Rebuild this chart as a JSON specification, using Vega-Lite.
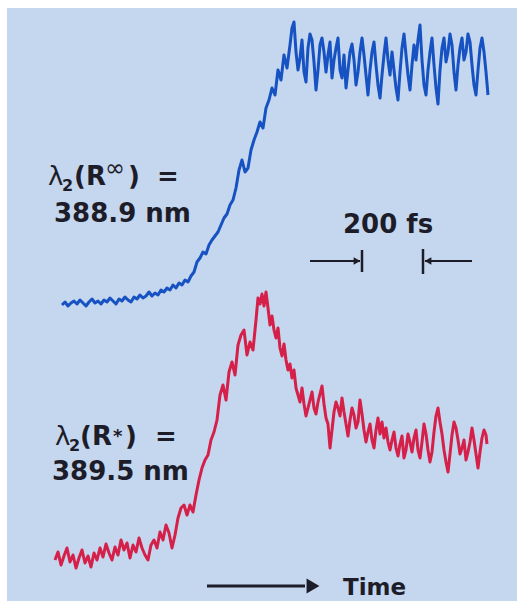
{
  "$schema": "https://vega.github.io/schema/vega-lite/v6.json",
  "width": 510,
  "height": 593,
  "autosize": "none",
  "padding": {"left": 7, "top": 8, "right": 0, "bottom": 0},
  "background": "white",
  "view": {"fill": "#c5d6ef", "stroke": null},
  "config": {
    "axis": {"disable": true},
    "text": {"font": "DejaVu Sans", "fontWeight": "bold", "color": "#1d1d29", "align": "left", "baseline": "alphabetic"}
  },
  "datasets": {
    "blue": [
      {"t":62,"s":295},{"t":65,"s":298},{"t":68,"s":294},{"t":71,"s":297},{"t":74,"s":299},{"t":77,"s":296},{"t":80,"s":300},{"t":83,"s":297},{"t":86,"s":294},{"t":89,"s":298},
      {"t":92,"s":301},{"t":95,"s":297},{"t":98,"s":299},{"t":101,"s":296},{"t":104,"s":300},{"t":107,"s":298},{"t":110,"s":302},{"t":113,"s":299},{"t":116,"s":296},{"t":119,"s":301},
      {"t":122,"s":299},{"t":125,"s":303},{"t":128,"s":300},{"t":131,"s":298},{"t":134,"s":303},{"t":137,"s":301},{"t":140,"s":305},{"t":143,"s":302},{"t":146,"s":304},{"t":149,"s":308},
      {"t":152,"s":304},{"t":155,"s":307},{"t":158,"s":305},{"t":161,"s":310},{"t":164,"s":308},{"t":167,"s":312},{"t":170,"s":310},{"t":173,"s":315},{"t":176,"s":312},{"t":179,"s":317},
      {"t":182,"s":315},{"t":185,"s":320},{"t":188,"s":318},{"t":191,"s":324},{"t":194,"s":328},{"t":197,"s":338},{"t":200,"s":342},{"t":203,"s":348},{"t":206,"s":346},{"t":209,"s":355},
      {"t":212,"s":360},{"t":215,"s":364},{"t":218,"s":368},{"t":221,"s":375},{"t":224,"s":382},{"t":227,"s":386},{"t":230,"s":395},{"t":233,"s":400},{"t":236,"s":412},{"t":239,"s":430},
      {"t":242,"s":440},{"t":245,"s":428},{"t":248,"s":432},{"t":251,"s":450},{"t":254,"s":460},{"t":257,"s":468},{"t":260,"s":478},{"t":263,"s":472},{"t":266,"s":492},{"t":269,"s":500},
      {"t":272,"s":512},{"t":275,"s":505},{"t":278,"s":530},{"t":281,"s":520},{"t":284,"s":545},{"t":287,"s":532},
      {"t":290,"s":555},{"t":292,"s":572},{"t":294,"s":578},{"t":296,"s":548},{"t":298,"s":530},{"t":300,"s":542},{"t":302,"s":560},{"t":304,"s":528},{"t":306,"s":518},{"t":308,"s":552},
      {"t":310,"s":566},{"t":312,"s":560},{"t":314,"s":538},{"t":316,"s":510},{"t":318,"s":530},{"t":320,"s":555},{"t":322,"s":562},{"t":324,"s":548},{"t":326,"s":528},{"t":328,"s":545},
      {"t":330,"s":558},{"t":332,"s":522},{"t":334,"s":540},{"t":336,"s":552},{"t":338,"s":562},{"t":340,"s":530},{"t":342,"s":522},{"t":344,"s":545},{"t":346,"s":512},{"t":348,"s":530},
      {"t":350,"s":548},{"t":352,"s":556},{"t":354,"s":540},{"t":356,"s":515},{"t":358,"s":528},{"t":360,"s":548},{"t":362,"s":562},{"t":364,"s":545},{"t":366,"s":525},{"t":368,"s":505},
      {"t":370,"s":530},{"t":372,"s":548},{"t":374,"s":558},{"t":376,"s":535},{"t":378,"s":515},{"t":380,"s":502},{"t":382,"s":525},{"t":384,"s":545},{"t":386,"s":562},{"t":388,"s":540},
      {"t":390,"s":525},{"t":392,"s":548},{"t":394,"s":530},{"t":396,"s":512},{"t":398,"s":500},{"t":400,"s":528},{"t":402,"s":552},{"t":404,"s":566},{"t":406,"s":545},{"t":408,"s":525},
      {"t":410,"s":510},{"t":412,"s":535},{"t":414,"s":555},{"t":416,"s":540},{"t":418,"s":560},{"t":420,"s":575},{"t":422,"s":540},{"t":424,"s":515},{"t":426,"s":505},{"t":428,"s":530},
      {"t":430,"s":548},{"t":432,"s":562},{"t":434,"s":535},{"t":436,"s":512},{"t":438,"s":496},{"t":440,"s":530},{"t":442,"s":552},{"t":444,"s":562},{"t":446,"s":538},{"t":448,"s":548},
      {"t":450,"s":566},{"t":452,"s":555},{"t":454,"s":528},{"t":456,"s":510},{"t":458,"s":535},{"t":460,"s":552},{"t":462,"s":562},{"t":464,"s":540},{"t":466,"s":548},{"t":468,"s":566},
      {"t":470,"s":558},{"t":472,"s":535},{"t":474,"s":515},{"t":476,"s":505},{"t":478,"s":530},{"t":480,"s":552},{"t":482,"s":562},{"t":484,"s":548},{"t":486,"s":528},{"t":488,"s":505}
    ],
    "red": [
      {"t":55,"s":40},{"t":58,"s":48},{"t":61,"s":35},{"t":64,"s":44},{"t":67,"s":52},{"t":70,"s":38},{"t":73,"s":45},{"t":76,"s":32},{"t":79,"s":42},{"t":82,"s":50},
      {"t":85,"s":37},{"t":88,"s":44},{"t":91,"s":33},{"t":94,"s":47},{"t":97,"s":40},{"t":100,"s":52},{"t":103,"s":43},{"t":106,"s":56},{"t":109,"s":47},{"t":112,"s":40},
      {"t":115,"s":53},{"t":118,"s":45},{"t":121,"s":60},{"t":124,"s":50},{"t":127,"s":57},{"t":130,"s":42},{"t":133,"s":55},{"t":136,"s":48},{"t":139,"s":62},{"t":142,"s":52},
      {"t":145,"s":45},{"t":148,"s":40},{"t":151,"s":55},{"t":154,"s":60},{"t":157,"s":52},{"t":160,"s":68},{"t":163,"s":60},{"t":166,"s":75},{"t":169,"s":67},{"t":172,"s":52},
      {"t":175,"s":65},{"t":178,"s":82},{"t":181,"s":92},{"t":184,"s":95},{"t":187,"s":85},{"t":190,"s":95},{"t":193,"s":88},{"t":196,"s":105},{"t":199,"s":120},{"t":202,"s":132},
      {"t":205,"s":140},{"t":208,"s":145},{"t":211,"s":160},{"t":214,"s":168},{"t":217,"s":180},{"t":220,"s":205},{"t":223,"s":215},{"t":226,"s":200},{"t":229,"s":228},{"t":232,"s":238},
      {"t":235,"s":225},{"t":238,"s":255},{"t":241,"s":265},{"t":244,"s":270},{"t":247,"s":245},{"t":250,"s":258},{"t":253,"s":250},
      {"t":256,"s":280},{"t":258,"s":302},{"t":260,"s":296},{"t":262,"s":306},{"t":264,"s":294},{"t":266,"s":308},{"t":268,"s":292},{"t":270,"s":275},{"t":272,"s":284},{"t":274,"s":270},
      {"t":276,"s":262},{"t":278,"s":272},{"t":280,"s":252},{"t":282,"s":244},{"t":284,"s":256},{"t":286,"s":240},{"t":288,"s":230},{"t":290,"s":236},{"t":292,"s":222},{"t":294,"s":230},
      {"t":296,"s":212},{"t":298,"s":205},{"t":300,"s":198},{"t":302,"s":212},{"t":304,"s":196},{"t":306,"s":184},{"t":308,"s":192},{"t":310,"s":200},{"t":312,"s":208},{"t":314,"s":192},
      {"t":316,"s":186},{"t":318,"s":198},{"t":320,"s":206},{"t":322,"s":214},{"t":324,"s":196},{"t":326,"s":182},{"t":328,"s":176},{"t":330,"s":152},{"t":332,"s":170},{"t":334,"s":188},
      {"t":336,"s":198},{"t":338,"s":192},{"t":340,"s":184},{"t":342,"s":202},{"t":344,"s":188},{"t":346,"s":176},{"t":348,"s":164},{"t":350,"s":180},{"t":352,"s":192},{"t":354,"s":185},
      {"t":356,"s":172},{"t":358,"s":178},{"t":360,"s":200},{"t":362,"s":186},{"t":364,"s":170},{"t":366,"s":158},{"t":368,"s":168},{"t":370,"s":176},{"t":372,"s":160},{"t":374,"s":152},
      {"t":376,"s":170},{"t":378,"s":182},{"t":380,"s":166},{"t":382,"s":178},{"t":384,"s":162},{"t":386,"s":172},{"t":388,"s":158},{"t":390,"s":150},{"t":392,"s":160},{"t":394,"s":168},
      {"t":396,"s":152},{"t":398,"s":144},{"t":400,"s":156},{"t":402,"s":164},{"t":404,"s":142},{"t":406,"s":150},{"t":408,"s":166},{"t":410,"s":158},{"t":412,"s":148},{"t":414,"s":162},
      {"t":416,"s":170},{"t":418,"s":150},{"t":420,"s":142},{"t":422,"s":158},{"t":424,"s":176},{"t":426,"s":166},{"t":428,"s":150},{"t":430,"s":138},{"t":432,"s":148},{"t":434,"s":168},
      {"t":436,"s":184},{"t":438,"s":192},{"t":440,"s":178},{"t":442,"s":166},{"t":444,"s":150},{"t":446,"s":138},{"t":448,"s":128},{"t":450,"s":146},{"t":452,"s":165},{"t":454,"s":178},
      {"t":456,"s":172},{"t":458,"s":160},{"t":460,"s":146},{"t":462,"s":152},{"t":464,"s":160},{"t":466,"s":140},{"t":468,"s":148},{"t":470,"s":158},{"t":472,"s":172},{"t":474,"s":160},
      {"t":476,"s":146},{"t":478,"s":132},{"t":480,"s":148},{"t":482,"s":162},{"t":484,"s":170},{"t":486,"s":165},{"t":487,"s":156}
    ]
  },
  "layer": [
    {
      "data": {"name": "blue"},
      "mark": {"type": "line", "color": "#1652c2", "strokeWidth": 3, "strokeJoin": "round"},
      "encoding": {
        "x": {"field": "t", "type": "quantitative", "scale": {"domain": [7, 517], "nice": false, "zero": false}},
        "y": {"field": "s", "type": "quantitative", "scale": {"domain": [-1, 592], "nice": false, "zero": false}}
      }
    },
    {
      "data": {"name": "red"},
      "mark": {"type": "line", "color": "#d52049", "strokeWidth": 3, "strokeJoin": "round"},
      "encoding": {
        "x": {"field": "t", "type": "quantitative"},
        "y": {"field": "s", "type": "quantitative"}
      }
    },
    {"data": {"values": [{}]}, "mark": {"type": "text", "fontSize": 26, "fontWeight": "normal"}, "encoding": {"x": {"datum": 48}, "y": {"datum": 415}, "text": {"value": "λ"}}},
    {"data": {"values": [{}]}, "mark": {"type": "text", "fontSize": 16}, "encoding": {"x": {"datum": 62}, "y": {"datum": 409}, "text": {"value": "2"}}},
    {"data": {"values": [{}]}, "mark": {"type": "text", "fontSize": 26}, "encoding": {"x": {"datum": 74}, "y": {"datum": 415}, "text": {"value": "(R"}}},
    {"data": {"values": [{}]}, "mark": {"type": "text", "fontSize": 24, "fontWeight": "normal"}, "encoding": {"x": {"datum": 105}, "y": {"datum": 424}, "text": {"value": "∞"}}},
    {"data": {"values": [{}]}, "mark": {"type": "text", "fontSize": 26}, "encoding": {"x": {"datum": 128}, "y": {"datum": 415}, "text": {"value": ")"}}},
    {"data": {"values": [{}]}, "mark": {"type": "text", "fontSize": 26}, "encoding": {"x": {"datum": 157}, "y": {"datum": 415}, "text": {"value": "="}}},
    {"data": {"values": [{}]}, "mark": {"type": "text", "fontSize": 26}, "encoding": {"x": {"datum": 54}, "y": {"datum": 378}, "text": {"value": "388.9 nm"}}},
    {"data": {"values": [{}]}, "mark": {"type": "text", "fontSize": 26, "fontWeight": "normal"}, "encoding": {"x": {"datum": 55}, "y": {"datum": 155}, "text": {"value": "λ"}}},
    {"data": {"values": [{}]}, "mark": {"type": "text", "fontSize": 16}, "encoding": {"x": {"datum": 69}, "y": {"datum": 149}, "text": {"value": "2"}}},
    {"data": {"values": [{}]}, "mark": {"type": "text", "fontSize": 26}, "encoding": {"x": {"datum": 80}, "y": {"datum": 155}, "text": {"value": "(R"}}},
    {"data": {"values": [{}]}, "mark": {"type": "text", "fontSize": 18}, "encoding": {"x": {"datum": 113}, "y": {"datum": 158}, "text": {"value": "*"}}},
    {"data": {"values": [{}]}, "mark": {"type": "text", "fontSize": 26}, "encoding": {"x": {"datum": 125}, "y": {"datum": 155}, "text": {"value": ")"}}},
    {"data": {"values": [{}]}, "mark": {"type": "text", "fontSize": 26}, "encoding": {"x": {"datum": 155}, "y": {"datum": 155}, "text": {"value": "="}}},
    {"data": {"values": [{}]}, "mark": {"type": "text", "fontSize": 26}, "encoding": {"x": {"datum": 52}, "y": {"datum": 120}, "text": {"value": "389.5 nm"}}},
    {"data": {"values": [{}]}, "mark": {"type": "text", "fontSize": 26}, "encoding": {"x": {"datum": 343}, "y": {"datum": 367}, "text": {"value": "200 fs"}}},
    {"data": {"values": [{}]}, "mark": {"type": "text", "fontSize": 23}, "encoding": {"x": {"datum": 343}, "y": {"datum": 5}, "text": {"value": "Time"}}},
    {"data": {"values": [{}]}, "mark": {"type": "rule", "color": "#1d1d29", "strokeWidth": 3}, "encoding": {"x": {"datum": 207}, "x2": {"datum": 305}, "y": {"datum": 14}}},
    {"data": {"values": [{}]}, "mark": {"type": "point", "shape": "triangle-right", "filled": true, "color": "#1d1d29", "size": 220, "opacity": 1}, "encoding": {"x": {"datum": 313}, "y": {"datum": 14}}},
    {"data": {"values": [{}]}, "mark": {"type": "rule", "color": "#1d1d29", "strokeWidth": 2}, "encoding": {"x": {"datum": 310}, "x2": {"datum": 360}, "y": {"datum": 339}}},
    {"data": {"values": [{}]}, "mark": {"type": "point", "shape": "triangle-right", "filled": true, "color": "#1d1d29", "size": 60, "opacity": 1}, "encoding": {"x": {"datum": 357}, "y": {"datum": 339}}},
    {"data": {"values": [{}]}, "mark": {"type": "rule", "color": "#1d1d29", "strokeWidth": 2.5}, "encoding": {"x": {"datum": 362}, "y": {"datum": 350}, "y2": {"datum": 328}}},
    {"data": {"values": [{}]}, "mark": {"type": "rule", "color": "#1d1d29", "strokeWidth": 2.5}, "encoding": {"x": {"datum": 423}, "y": {"datum": 351}, "y2": {"datum": 326}}},
    {"data": {"values": [{}]}, "mark": {"type": "rule", "color": "#1d1d29", "strokeWidth": 2}, "encoding": {"x": {"datum": 425}, "x2": {"datum": 472}, "y": {"datum": 339}}},
    {"data": {"values": [{}]}, "mark": {"type": "point", "shape": "triangle-left", "filled": true, "color": "#1d1d29", "size": 60, "opacity": 1}, "encoding": {"x": {"datum": 428}, "y": {"datum": 339}}}
  ]
}
